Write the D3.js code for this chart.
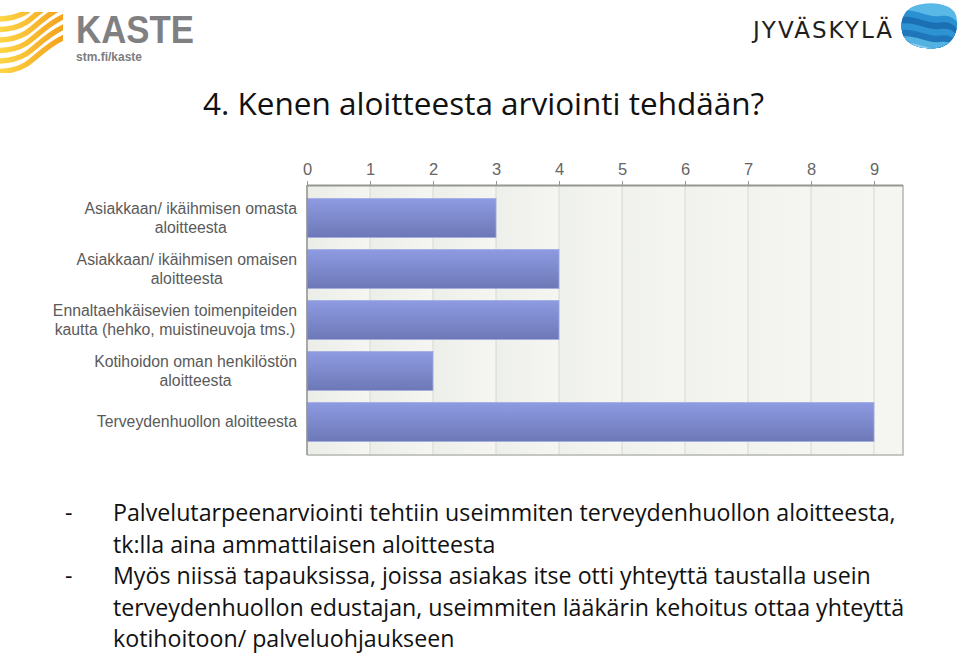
<!DOCTYPE html>
<html>
<head>
<meta charset="utf-8">
<style>
  body { margin: 0; background: #fff; }
  svg { display: block; }
</style>
</head>
<body>
<svg></svg>
<script src="https://cdnjs.cloudflare.com/ajax/libs/d3/7.8.5/d3.min.js"></script>
<script>
// chart data
const categories = [
  "Asiakkaan/ ikäihmisen omasta\naloitteesta",
  "Asiakkaan/ ikäihmisen omaisen\naloitteesta",
  "Ennaltaehkäisevien toimenpiteiden\nkautta (hehko, muistineuvoja tms.)",
  "Kotihoidon oman henkilöstön\naloitteesta",
  "Terveydenhuollon aloitteesta"
];
const values = [3, 4, 4, 2, 9];
const tickValues = [0, 1, 2, 3, 4, 5, 6, 7, 8, 9];

const title = "4. Kenen aloitteesta arviointi tehdään?";
const bullets = [
  ["Palvelutarpeenarviointi tehtiin useimmiten terveydenhuollon aloitteesta,",
   "tk:lla aina ammattilaisen aloitteesta"],
  ["Myös niissä tapauksissa, joissa asiakas itse otti yhteyttä taustalla usein",
   "terveydenhuollon edustajan, useimmiten lääkärin kehoitus ottaa yhteyttä",
   "kotihoitoon/ palveluohjaukseen"]
];

const width = 960, height = 655;
const plot = { left: 307, right: 903, top: 185, bottom: 455 };

const svg = d3.select("svg").attr("width", width).attr("height", height);
const defs = svg.append("defs");

// ---------- logos ----------
const kGrad = defs.append("linearGradient").attr("id", "kasteGrad")
  .attr("gradientUnits", "userSpaceOnUse")
  .attr("x1", 0).attr("y1", 40).attr("x2", 64).attr("y2", 40);
kGrad.append("stop").attr("offset", 0).attr("stop-color", "#fdd545");
kGrad.append("stop").attr("offset", 1).attr("stop-color", "#f3a11b");

defs.append("clipPath").attr("id", "kasteClip")
  .append("rect").attr("x", 0).attr("y", 12).attr("width", 63).attr("height", 61);

const waves = svg.append("g").attr("clip-path", "url(#kasteClip)");
d3.range(-3, 6).forEach(i => {
  const y0 = 19 + i * 10.5;
  waves.append("path")
    .attr("d", `M-2,${y0} C8,${y0} 16,${y0 - 1} 26,${y0 - 7} C38,${y0 - 15} 48,${y0 - 28} 68,${y0 - 36}`)
    .attr("fill", "none")
    .attr("stroke", "url(#kasteGrad)")
    .attr("stroke-width", 5.5);
});

svg.append("text").attr("x", 76).attr("y", 42.5)
  .attr("textLength", 118).attr("lengthAdjust", "spacingAndGlyphs")
  .style("font-family", "'Liberation Sans', Arial, sans-serif")
  .style("font-size", "39px").style("font-weight", "bold")
  .attr("fill", "#808083").text("KASTE");
svg.append("text").attr("x", 76).attr("y", 61)
  .attr("textLength", 66).attr("lengthAdjust", "spacingAndGlyphs")
  .style("font-family", "'Liberation Sans', Arial, sans-serif")
  .style("font-size", "12.5px").style("font-weight", "bold")
  .attr("fill", "#7d7d7f").text("stm.fi/kaste");

svg.append("text").attr("x", 753).attr("y", 38)
  .attr("textLength", 139).attr("lengthAdjust", "spacing")
  .style("font-family", "'DejaVu Sans', sans-serif")
  .style("font-size", "23px")
  .attr("fill", "#1e1e1e").text("JYVÄSKYLÄ");

// blue blob
defs.append("clipPath").attr("id", "blobClip").append("path")
  .attr("d", "M912,7 C928,0 952,3 956,15 C960,30 953,46 937,48 C920,50 904,44 902,31 C900,21 904,11 912,7 Z");
const blob = svg.append("g").attr("clip-path", "url(#blobClip)");
blob.append("rect").attr("x", 898).attr("y", 0).attr("width", 62).attr("height", 52).attr("fill", "#5ab8e6");
const blobBands = ["#2a90d2", "#1b6fb3", "#2d93d3", "#1f76ba", "#54b2e3", "#8fd3f1"];
blobBands.forEach((c, i) => {
  const yy = 6 + i * 6.5;
  blob.append("path")
    .attr("d", `M896,${yy + 6} C912,${yy} 926,${yy + 12} 940,${yy + 10} S956,${yy + 16} 964,${yy + 24} L964,60 L896,60 Z`)
    .attr("fill", c);
});

// ---------- title ----------
svg.append("text").attr("x", 203).attr("y", 115)
  .style("font-family", "'Open Sans', sans-serif")
  .style("font-size", "31.5px")
  .attr("fill", "#111").text(title);

// ---------- chart ----------
const x = d3.scaleLinear().domain([0, 9]).range([plot.left, 874]);
const y = d3.scaleBand().domain(categories)
  .range([plot.top, plot.bottom]).paddingInner(0.235).paddingOuter(0.265);

svg.append("rect")
  .attr("x", plot.left).attr("y", plot.top)
  .attr("width", plot.right - plot.left).attr("height", plot.bottom - plot.top)
  .attr("fill", "#f5f6f2");

const colGrad = defs.append("linearGradient").attr("id", "colGrad")
  .attr("x1", 0).attr("y1", 0).attr("x2", 1).attr("y2", 0);
colGrad.append("stop").attr("offset", 0).attr("stop-color", "#ebede7");
colGrad.append("stop").attr("offset", 1).attr("stop-color", "#f5f6f2");

const cols = tickValues.slice(0, -1);
svg.append("g").selectAll("rect").data(cols).join("rect")
  .attr("x", d => x(d)).attr("y", plot.top)
  .attr("width", d => x(d + 1) - x(d)).attr("height", plot.bottom - plot.top)
  .attr("fill", "url(#colGrad)")
  .attr("opacity", (d, i) => 1 - i * 0.09);

// gridlines
svg.append("g").selectAll("line").data(tickValues.slice(1)).join("line")
  .attr("x1", d => x(d)).attr("x2", d => x(d))
  .attr("y1", plot.top).attr("y2", plot.bottom)
  .attr("stroke", "#d6d8d4").attr("stroke-width", 1);

// plot frame (right and bottom)
svg.append("path")
  .attr("d", `M${plot.right},${plot.top} V${plot.bottom} H${plot.left}`)
  .attr("fill", "none").attr("stroke", "#b4b6b3").attr("stroke-width", 1.5);

// bars
const barGrad = defs.append("linearGradient").attr("id", "barGrad")
  .attr("x1", 0).attr("y1", 0).attr("x2", 0).attr("y2", 1);
barGrad.append("stop").attr("offset", 0).attr("stop-color", "#8e9be2");
barGrad.append("stop").attr("offset", 1).attr("stop-color", "#6c78b6");

svg.append("g").selectAll("rect").data(values).join("rect")
  .attr("x", x(0))
  .attr("y", (d, i) => y(categories[i]))
  .attr("width", d => x(d) - x(0))
  .attr("height", y.bandwidth())
  .attr("fill", "url(#barGrad)")
  .attr("stroke", "#a3ace0").attr("stroke-width", 0.8);

// left axis line
svg.append("line")
  .attr("x1", plot.left).attr("x2", plot.left)
  .attr("y1", plot.top).attr("y2", plot.bottom)
  .attr("stroke", "#8f918e").attr("stroke-width", 1.5);

// top axis
const axis = svg.append("g")
  .attr("transform", `translate(0,${plot.top})`)
  .call(d3.axisTop(x).tickValues(tickValues).tickSize(4).tickPadding(6).tickSizeOuter(0));
axis.select(".domain").attr("d", `M${plot.left},0.5H${plot.right}`)
  .attr("stroke", "#959794").attr("stroke-width", 2);
axis.selectAll(".tick line").attr("stroke", "#959794");
axis.selectAll(".tick text")
  .style("font-family", "'Liberation Sans', Arial, sans-serif")
  .style("font-size", "16.5px").attr("fill", "#666");

// category labels: block right-aligned at labelRight, lines centred in the block
const labelRight = 297;
const labels = svg.append("g").selectAll("text").data(categories).join("text")
  .attr("text-anchor", "middle")
  .style("font-family", "'Liberation Sans', Arial, sans-serif")
  .style("font-size", "15.8px").attr("fill", "#5a5a5a");
labels.each(function (d) {
  const lines = d.split("\n");
  const t = d3.select(this);
  lines.forEach((ln, j) => {
    t.append("tspan").attr("x", 0)
      .attr("y", (j - (lines.length - 1) / 2) * 19.5 + 5.5)
      .text(ln);
  });
  const w = d3.max(t.selectAll("tspan").nodes(), n => n.getComputedTextLength());
  t.attr("transform", `translate(${labelRight - w / 2},${y(d) + y.bandwidth() / 2})`);
});

// ---------- bullet text ----------
let lineY = 521;
const body = svg.append("g")
  .style("font-family", "'Open Sans', sans-serif").style("font-size", "23.2px").attr("fill", "#111");
bullets.forEach(b => {
  body.append("text").attr("x", 65).attr("y", lineY).text("-");
  b.forEach(ln => {
    body.append("text").attr("x", 113).attr("y", lineY).text(ln);
    lineY += 31.5;
  });
});
</script>
</body>
</html>
